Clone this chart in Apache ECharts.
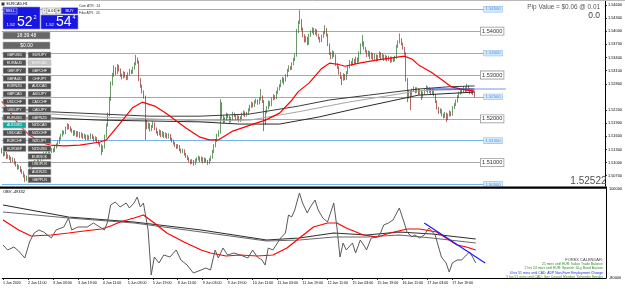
<!DOCTYPE html>
<html><head><meta charset="utf-8">
<script src="https://cdn.jsdelivr.net/npm/echarts@6/dist/echarts.min.js"></script>
<style>html,body{margin:0;padding:0;background:#fff}#c{width:625px;height:289px}</style>
</head><body><div id="c"></div>
<script>
// ---------- DATA ----------
const tickLabels = ['1 Jun 2020','2 Jun 11:00','3 Jun 03:00','3 Jun 19:00','4 Jun 11:00','5 Jun 03:00','5 Jun 19:00','8 Jun 11:00','9 Jun 03:00','9 Jun 19:00','10 Jun 11:00','11 Jun 03:00','11 Jun 19:00','12 Jun 11:00','15 Jun 03:00','15 Jun 19:00','16 Jun 11:00','17 Jun 03:00','17 Jun 19:00'];
const barsPerTick = 16;
// EURCAD H1 candles: [open, high, low, close]
const candles = [
[1.5130,1.5134,1.5121,1.5125],[1.5125,1.5128,1.5114,1.5118],[1.5118,1.5126,1.5115,1.5122],[1.5122,1.5124,1.5108,1.5112],[1.5112,1.5119,1.5109,1.5115],
[1.5115,1.5117,1.5106,1.5110],[1.5110,1.5113,1.5100,1.5104],[1.5104,1.5112,1.5101,1.5108],[1.5108,1.5110,1.5096,1.5100],[1.5100,1.5103,1.5091,1.5095],
[1.5095,1.5097,1.5084,1.5088],[1.5088,1.5094,1.5085,1.5090],[1.5090,1.5092,1.5078,1.5082],[1.5082,1.5085,1.5074,1.5078],[1.5078,1.5080,1.5066,1.5070],
[1.5070,1.5073,1.5056,1.5062],[1.5062,1.5070,1.5058,1.5066],[1.5066,1.5079,1.5063,1.5075],[1.5075,1.5089,1.5072,1.5085],[1.5085,1.5096,1.5082,1.5092],
[1.5092,1.5102,1.5089,1.5098],[1.5098,1.5106,1.5095,1.5102],[1.5102,1.5104,1.5092,1.5096],[1.5096,1.5109,1.5093,1.5105],[1.5105,1.5114,1.5102,1.5110],
[1.5110,1.5113,1.5104,1.5108],[1.5108,1.5119,1.5105,1.5115],[1.5115,1.5124,1.5112,1.5120],[1.5120,1.5123,1.5113,1.5117],[1.5117,1.5128,1.5114,1.5124],
[1.5124,1.5132,1.5121,1.5128],[1.5128,1.5131,1.5121,1.5125],[1.5125,1.5134,1.5122,1.5130],[1.5130,1.5133,1.5123,1.5127],[1.5127,1.5139,1.5124,1.5135],
[1.5135,1.5144,1.5132,1.5140],[1.5140,1.5150,1.5137,1.5146],[1.5146,1.5159,1.5143,1.5155],[1.5155,1.5166,1.5152,1.5162],[1.5162,1.5174,1.5159,1.5170],
[1.5170,1.5173,1.5164,1.5168],[1.5168,1.5182,1.5165,1.5178],[1.5178,1.5190,1.5175,1.5186],[1.5186,1.5188,1.5176,1.5180],[1.5180,1.5183,1.5171,1.5175],
[1.5175,1.5178,1.5168,1.5172],[1.5172,1.5174,1.5161,1.5165],[1.5165,1.5174,1.5162,1.5170],[1.5170,1.5172,1.5158,1.5162],[1.5162,1.5172,1.5159,1.5168],
[1.5168,1.5170,1.5156,1.5160],[1.5160,1.5169,1.5157,1.5165],[1.5165,1.5167,1.5154,1.5158],[1.5158,1.5166,1.5155,1.5162],[1.5162,1.5164,1.5151,1.5155],
[1.5155,1.5164,1.5152,1.5160],[1.5160,1.5162,1.5152,1.5156],[1.5156,1.5167,1.5153,1.5163],[1.5163,1.5165,1.5154,1.5158],[1.5158,1.5160,1.5148,1.5152],
[1.5152,1.5160,1.5149,1.5156],[1.5156,1.5158,1.5146,1.5150],[1.5150,1.5152,1.5141,1.5145],[1.5145,1.5147,1.5136,1.5140],[1.5140,1.5142,1.5117,1.5128],
[1.5128,1.5139,1.5124,1.5135],[1.5135,1.5164,1.5132,1.5160],[1.5160,1.5189,1.5157,1.5185],[1.5185,1.5214,1.5182,1.5210],[1.5210,1.5250,1.5206,1.5245],
[1.5245,1.5285,1.5241,1.5280],[1.5280,1.5305,1.5276,1.5300],[1.5300,1.5322,1.5296,1.5315],[1.5315,1.5318,1.5300,1.5305],[1.5305,1.5325,1.5302,1.5320],
[1.5320,1.5323,1.5308,1.5312],[1.5312,1.5315,1.5296,1.5300],[1.5300,1.5303,1.5290,1.5295],[1.5295,1.5309,1.5292,1.5305],[1.5305,1.5307,1.5294,1.5298],
[1.5298,1.5300,1.5288,1.5292],[1.5292,1.5306,1.5289,1.5302],[1.5302,1.5314,1.5299,1.5310],[1.5310,1.5312,1.5302,1.5306],[1.5306,1.5319,1.5303,1.5315],
[1.5315,1.5329,1.5312,1.5325],[1.5325,1.5346,1.5322,1.5338],[1.5338,1.5340,1.5326,1.5330],[1.5330,1.5333,1.5286,1.5290],[1.5290,1.5293,1.5271,1.5275],
[1.5275,1.5278,1.5258,1.5262],[1.5262,1.5265,1.5246,1.5250],[1.5250,1.5253,1.5152,1.5195],[1.5195,1.5198,1.5176,1.5180],[1.5180,1.5192,1.5177,1.5188],
[1.5188,1.5190,1.5171,1.5175],[1.5175,1.5186,1.5172,1.5182],[1.5182,1.5194,1.5179,1.5190],[1.5190,1.5192,1.5174,1.5178],[1.5178,1.5180,1.5166,1.5170],
[1.5170,1.5172,1.5161,1.5165],[1.5165,1.5176,1.5162,1.5172],[1.5172,1.5174,1.5158,1.5162],[1.5162,1.5172,1.5159,1.5168],[1.5168,1.5170,1.5156,1.5160],
[1.5160,1.5169,1.5157,1.5165],[1.5165,1.5167,1.5154,1.5158],[1.5158,1.5167,1.5155,1.5163],[1.5163,1.5165,1.5151,1.5155],[1.5155,1.5157,1.5146,1.5150],
[1.5150,1.5152,1.5141,1.5145],[1.5145,1.5147,1.5136,1.5140],[1.5140,1.5142,1.5131,1.5135],[1.5135,1.5142,1.5132,1.5138],[1.5138,1.5140,1.5126,1.5130],
[1.5130,1.5132,1.5121,1.5125],[1.5125,1.5132,1.5122,1.5128],[1.5128,1.5130,1.5116,1.5120],[1.5120,1.5122,1.5111,1.5115],[1.5115,1.5117,1.5106,1.5110],
[1.5110,1.5112,1.5101,1.5105],[1.5105,1.5107,1.5096,1.5100],[1.5100,1.5108,1.5097,1.5104],[1.5104,1.5106,1.5093,1.5098],[1.5098,1.5109,1.5095,1.5105],
[1.5105,1.5112,1.5102,1.5108],[1.5108,1.5116,1.5105,1.5112],[1.5112,1.5114,1.5101,1.5105],[1.5105,1.5114,1.5102,1.5110],[1.5110,1.5112,1.5098,1.5102],
[1.5102,1.5112,1.5099,1.5108],[1.5108,1.5110,1.5100,1.5104],[1.5104,1.5106,1.5095,1.5100],[1.5100,1.5110,1.5097,1.5106],[1.5106,1.5116,1.5103,1.5112],
[1.5112,1.5129,1.5109,1.5125],[1.5125,1.5142,1.5122,1.5138],[1.5138,1.5154,1.5135,1.5150],[1.5150,1.5166,1.5147,1.5162],[1.5162,1.5174,1.5159,1.5170],
[1.5170,1.5245,1.5166,1.5230],[1.5230,1.5238,1.5200,1.5205],[1.5205,1.5208,1.5190,1.5195],[1.5195,1.5204,1.5191,1.5200],[1.5200,1.5214,1.5197,1.5210],
[1.5210,1.5212,1.5201,1.5205],[1.5205,1.5207,1.5191,1.5195],[1.5195,1.5204,1.5192,1.5200],[1.5200,1.5216,1.5197,1.5212],[1.5212,1.5214,1.5204,1.5208],
[1.5208,1.5210,1.5196,1.5200],[1.5200,1.5209,1.5197,1.5205],[1.5205,1.5207,1.5192,1.5196],[1.5196,1.5206,1.5193,1.5202],[1.5202,1.5214,1.5199,1.5210],
[1.5210,1.5219,1.5207,1.5215],[1.5215,1.5217,1.5204,1.5208],[1.5208,1.5216,1.5205,1.5212],[1.5212,1.5224,1.5209,1.5220],[1.5220,1.5232,1.5217,1.5228],
[1.5228,1.5239,1.5225,1.5235],[1.5235,1.5237,1.5226,1.5230],[1.5230,1.5242,1.5227,1.5238],[1.5238,1.5246,1.5235,1.5242],[1.5242,1.5244,1.5232,1.5236],
[1.5236,1.5249,1.5233,1.5245],[1.5245,1.5268,1.5242,1.5250],[1.5250,1.5253,1.5236,1.5240],[1.5240,1.5243,1.5172,1.5190],[1.5190,1.5219,1.5186,1.5215],
[1.5215,1.5229,1.5212,1.5225],[1.5225,1.5242,1.5222,1.5238],[1.5238,1.5240,1.5228,1.5232],[1.5232,1.5249,1.5229,1.5245],[1.5245,1.5256,1.5242,1.5252],
[1.5252,1.5254,1.5244,1.5248],[1.5248,1.5264,1.5245,1.5260],[1.5260,1.5272,1.5257,1.5268],[1.5268,1.5279,1.5265,1.5275],[1.5275,1.5289,1.5272,1.5285],
[1.5285,1.5296,1.5282,1.5292],[1.5292,1.5294,1.5278,1.5288],[1.5288,1.5302,1.5285,1.5298],[1.5298,1.5314,1.5295,1.5310],[1.5310,1.5322,1.5307,1.5318],
[1.5318,1.5320,1.5311,1.5315],[1.5315,1.5329,1.5312,1.5325],[1.5325,1.5339,1.5322,1.5335],[1.5335,1.5349,1.5332,1.5345],[1.5345,1.5405,1.5342,1.5400],
[1.5400,1.5424,1.5396,1.5420],[1.5420,1.5448,1.5416,1.5425],[1.5425,1.5428,1.5401,1.5405],[1.5405,1.5408,1.5386,1.5390],[1.5390,1.5393,1.5374,1.5378],
[1.5378,1.5389,1.5375,1.5385],[1.5385,1.5387,1.5368,1.5372],[1.5372,1.5394,1.5369,1.5390],[1.5390,1.5402,1.5387,1.5398],[1.5398,1.5409,1.5395,1.5405],
[1.5405,1.5407,1.5391,1.5395],[1.5395,1.5406,1.5392,1.5402],[1.5402,1.5404,1.5388,1.5392],[1.5392,1.5394,1.5381,1.5385],[1.5385,1.5387,1.5374,1.5378],
[1.5378,1.5392,1.5375,1.5388],[1.5388,1.5400,1.5385,1.5396],[1.5396,1.5414,1.5393,1.5405],[1.5405,1.5407,1.5388,1.5392],[1.5392,1.5394,1.5366,1.5370],
[1.5370,1.5372,1.5346,1.5350],[1.5350,1.5352,1.5336,1.5340],[1.5340,1.5356,1.5337,1.5352],[1.5352,1.5354,1.5341,1.5345],[1.5345,1.5347,1.5321,1.5325],
[1.5325,1.5327,1.5314,1.5318],[1.5318,1.5320,1.5301,1.5305],[1.5305,1.5307,1.5291,1.5295],[1.5295,1.5297,1.5277,1.5290],[1.5290,1.5304,1.5287,1.5300],
[1.5300,1.5302,1.5288,1.5292],[1.5292,1.5309,1.5289,1.5305],[1.5305,1.5322,1.5302,1.5318],[1.5318,1.5334,1.5315,1.5330],[1.5330,1.5332,1.5321,1.5325],
[1.5325,1.5339,1.5322,1.5335],[1.5335,1.5337,1.5324,1.5328],[1.5328,1.5342,1.5325,1.5338],[1.5338,1.5340,1.5328,1.5332],[1.5332,1.5354,1.5329,1.5350],
[1.5350,1.5372,1.5347,1.5368],[1.5368,1.5391,1.5365,1.5375],[1.5375,1.5377,1.5358,1.5362],[1.5362,1.5364,1.5351,1.5355],[1.5355,1.5357,1.5341,1.5345],
[1.5345,1.5356,1.5342,1.5352],[1.5352,1.5354,1.5336,1.5340],[1.5340,1.5352,1.5337,1.5348],[1.5348,1.5350,1.5334,1.5338],[1.5338,1.5349,1.5335,1.5345],
[1.5345,1.5347,1.5331,1.5335],[1.5335,1.5346,1.5332,1.5342],[1.5342,1.5354,1.5339,1.5350],[1.5350,1.5352,1.5336,1.5340],[1.5340,1.5349,1.5337,1.5345],
[1.5345,1.5347,1.5332,1.5336],[1.5336,1.5346,1.5333,1.5342],[1.5342,1.5344,1.5331,1.5335],[1.5335,1.5344,1.5332,1.5340],[1.5340,1.5342,1.5328,1.5332],
[1.5332,1.5342,1.5329,1.5338],[1.5338,1.5340,1.5330,1.5334],[1.5334,1.5344,1.5331,1.5340],[1.5340,1.5369,1.5337,1.5365],[1.5365,1.5379,1.5362,1.5375],
[1.5375,1.5395,1.5372,1.5382],[1.5382,1.5384,1.5368,1.5372],[1.5372,1.5374,1.5358,1.5362],[1.5362,1.5364,1.5346,1.5350],[1.5350,1.5352,1.5285,1.5290],
[1.5290,1.5293,1.5238,1.5250],[1.5250,1.5266,1.5246,1.5262],[1.5262,1.5264,1.5220,1.5255],[1.5255,1.5269,1.5252,1.5265],[1.5265,1.5274,1.5262,1.5270],
[1.5270,1.5272,1.5258,1.5262],[1.5262,1.5272,1.5259,1.5268],[1.5268,1.5270,1.5254,1.5258],[1.5258,1.5268,1.5255,1.5264],[1.5264,1.5266,1.5243,1.5250],
[1.5250,1.5262,1.5247,1.5258],[1.5258,1.5269,1.5255,1.5265],[1.5265,1.5276,1.5262,1.5272],[1.5272,1.5274,1.5258,1.5262],[1.5262,1.5272,1.5259,1.5268],
[1.5268,1.5270,1.5254,1.5258],[1.5258,1.5268,1.5255,1.5264],[1.5264,1.5266,1.5251,1.5255],[1.5255,1.5257,1.5236,1.5240],[1.5240,1.5242,1.5221,1.5225],
[1.5225,1.5227,1.5211,1.5215],[1.5215,1.5224,1.5212,1.5220],[1.5220,1.5222,1.5206,1.5210],[1.5210,1.5212,1.5201,1.5205],[1.5205,1.5216,1.5202,1.5212],
[1.5212,1.5214,1.5193,1.5200],[1.5200,1.5212,1.5197,1.5208],[1.5208,1.5219,1.5205,1.5215],[1.5215,1.5217,1.5206,1.5210],[1.5210,1.5229,1.5207,1.5225],
[1.5225,1.5236,1.5222,1.5232],[1.5232,1.5244,1.5229,1.5240],[1.5240,1.5254,1.5237,1.5250],[1.5250,1.5262,1.5247,1.5258],[1.5258,1.5269,1.5255,1.5265],
[1.5265,1.5267,1.5258,1.5262],[1.5262,1.5274,1.5259,1.5270],[1.5270,1.5272,1.5261,1.5265],[1.5265,1.5280,1.5262,1.5275],[1.5275,1.5277,1.5264,1.5268],
[1.5268,1.5270,1.5256,1.5260],[1.5260,1.5269,1.5257,1.5265],[1.5265,1.5267,1.5254,1.5258],[1.5258,1.5261,1.5249,1.5252]
];
// moving averages on price, read at sample bars: [barIndex, price]
const priceEmaRed = [[0,1.5240],[6,1.5212],[11,1.5186],[17,1.5165],[24,1.5148],[31,1.5140],[40,1.5138],[50,1.5140],[63,1.5147],[67,1.5152],[75,1.5186],[84,1.5226],[90,1.5238],[98,1.5229],[105,1.5213],[118,1.5179],[127,1.5158],[133,1.5152],[139,1.5152],[148,1.5172],[163,1.5190],[169,1.5197],[178,1.5213],[186,1.5243],[190,1.5262],[197,1.5282],[205,1.5315],[210,1.5327],[216,1.5324],[220,1.5320],[229,1.5327],[240,1.5334],[250,1.5339],[258,1.5343],[263,1.5336],[267,1.5323],[275,1.5307],[282,1.5289],[288,1.5273],[297,1.5266],[303,1.5263]];
const priceMaGray1 = [[0,1.5225],[31,1.5216],[63,1.5211],[95,1.5206],[127,1.5206],[159,1.5211],[190,1.5229],[210,1.5243],[235,1.5254],[267,1.5268],[286,1.5273],[303,1.5275]];
const priceMaGray2 = [[0,1.5216],[31,1.5211],[63,1.5204],[95,1.5200],[127,1.5195],[159,1.5197],[190,1.5216],[222,1.5238],[267,1.5264],[303,1.5268]];
const priceMaGray3 = [[0,1.5202],[31,1.5202],[63,1.5197],[95,1.5195],[127,1.5193],[152,1.5188],[178,1.5188],[203,1.5204],[229,1.5225],[267,1.5254],[303,1.5261]];
const priceTrend = [[273,1.5268],[303,1.5268]];
const priceTrendExt = [[303,1.5268],[323,1.5268]];
const grayLevels = [1.510,1.520,1.530,1.540];
const blueLevels = [1.505,1.515,1.525,1.535,1.545];
const grayLevelEnd = 306.7, blueLevelEnd = 308.6;
const lastPrice = 1.52522;
const priceTicks = [1.546,1.543,1.540,1.537,1.534,1.531,1.528,1.522,1.519,1.516,1.513,1.510,1.507];
// OBV indicator, read at sample bars: [barIndex, value]
const obv = [[0,-13260],[3,-23370],[7,-17300],[10,-25390],[14,-39550],[17,-7190],[20,11010],[23,17080],[26,13035],[31,900],[34,17080],[39,23150],[42,41350],[44,17080],[48,23150],[54,23150],[58,31240],[63,21125],[65,17080],[67,33260],[69,67640],[72,73710],[75,63600],[79,71690],[81,61575],[84,71690],[86,83820],[88,63600],[90,71690],[93,17080],[95,-73930],[97,-37530],[100,-49660],[103,-33480],[107,-37530],[111,-23370],[114,-43600],[118,-53710],[122,-69890],[127,-63820],[130,-59780],[133,-63820],[136,-23370],[138,-39550],[141,-19330],[144,-33480],[148,-29440],[152,-33480],[157,-39550],[160,-23370],[163,-37530],[166,-43600],[168,-53710],[170,-19330],[173,-23370],[178,900],[181,11010],[183,47420],[185,43370],[187,57530],[190,91910],[192,71690],[195,51460],[197,63600],[200,77750],[202,57530],[205,41350],[208,33260],[212,71690],[214,23150],[216,-37530],[218,-9210],[220,-23370],[224,-9210],[226,-29440],[229,-3150],[232,-17300],[233,-23370],[236,900],[240,2920],[242,11010],[244,27190],[247,31240],[250,37300],[254,61580],[257,33260],[259,13040],[262,2920],[264,6970],[267,900],[270,6970],[273,21130],[277,6970],[281,-37530],[284,-49660],[286,-67870],[288,-49660],[291,-43600],[294,-43600],[297,-33480],[299,-27420],[301,-37530],[303,-49332]];
const obvEmaRed = [[0,37300],[10,17080],[18,4945],[31,6970],[42,11010],[52,15060],[63,19100],[69,25170],[75,33260],[84,41350],[90,47420],[97,31240],[105,11010],[116,-7190],[127,-23370],[133,-29440],[143,-35500],[152,-33480],[163,-35500],[173,-33480],[182,-19330],[190,900],[199,23150],[208,31240],[214,31240],[220,21130],[231,6970],[240,2920],[248,11010],[259,19100],[267,19100],[278,13040],[284,900],[291,-13260],[297,-17300],[303,-23370]];
const obvMaA = [[0,67640],[42,43370],[84,33260],[127,17080],[169,-3150],[190,900],[212,11010],[233,6970],[254,13040],[275,8990],[303,-1120]];
const obvMaB = [[0,53490],[42,41350],[84,31240],[127,13040],[169,-5170],[190,-3150],[212,2920],[233,2920],[254,6970],[275,900],[303,-9210]];
const obvTrend = [[270,31240],[309,-49660]];
const obvMin = -80000, obvMax = 100000;
const obvCurrent = -49332;
const calendarLines = [
  ['21 mins until EUR: Italian Trade Balance','#2e8b2e'],
  ['2 hrs 24 mins until EUR: Spanish 10-y Bond Auction','#2e8b2e'],
  ['4 hrs 51 mins until CAD: ADP Non-Farm Employment Change','#1f1fe8'],
  ['5 hrs 51 mins until CAD: Gov Council Member Schembri Speaks','#2e8b2e']
];
const symbolsCol1 = ['GBPUSD','EURAUD','GBPJPY','GBPAUD','EURNZD','GBPCAD','USDCHF','USDJPY','EURUSD','AUDUSD','USDCAD','EURCHF','EURGBP'];
const symbolsCol2 = ['EURJPY','EURCAD','GBPCHF','CHFJPY','AUDCAD','AUDJPY','CADCHF','CADJPY','GBPNZD','NZDCAD','NZDCHF','NZDJPY','NZDUSD','EURNOK','USDPLN','AUDNZD','GBPPLN'];

// ---------- CHART ----------
const FF = 'Liberation Sans, Arial, sans-serif';
const NCAT = 387;
const cats = Array.from({length: NCAT}, (_, i) => String(i));
const isTick = i => i % barsPerTick === 0 && i / barsPerTick < tickLabels.length;

function levelLine(p, end, blue) {
  return [
    { coord: [0, p],
      lineStyle: { color: blue ? '#78b4ea' : '#a8a8a8', width: 1, type: 'solid' },
      label: blue ? { show: true, position: 'end', distance: 0, formatter: p.toFixed(5), fontSize: 4.2, fontFamily: FF,
                       color: '#4f94dc', backgroundColor: '#d6e8fa', borderColor: '#8fc0ee', borderWidth: 0.6, padding: [0.6, 1.5] }
                  : { show: true, position: 'end', distance: 0, formatter: p.toFixed(5), fontSize: 5.6, fontFamily: FF,
                       color: '#333', backgroundColor: '#fff', borderColor: '#9a9a9a', borderWidth: 0.8, padding: [0.6, 1.2] } },
    { coord: [end, p] }
  ];
}

const G = [];
function rect(x, y, w, h, fill, stroke, lw) {
  G.push({ type: 'rect', z: 100, shape: { x, y, width: w, height: h }, style: { fill, stroke: stroke || null, lineWidth: lw || 0 } });
}
function txt(x, y, text, size, fill, align, vAlign, weight) {
  G.push({ type: 'text', z: 101, x, y, style: { text, fill, fontSize: size, fontFamily: FF, fontWeight: weight || 'normal',
    align: align || 'left', textAlign: align || 'left', verticalAlign: vAlign || 'middle', textVerticalAlign: vAlign || 'middle' } });
}
// frame pieces
G.push({ type: 'line', z: 90, shape: { x1: 0, y1: 0.5, x2: 625, y2: 0.5 }, style: { stroke: '#b8b8b8', lineWidth: 1 } });
rect(0, 186.5, 607, 2.2, '#000');
// title + info
rect(1.5, 2.5, 3, 3, '#333');
txt(6.5, 4.2, 'EURCAD,H1', 3.7, '#000');
txt(79, 6.5, 'Cam ATR : 24', 3.4, '#333');
txt(79, 13, 'Fibo ATR : 24', 3.4, '#333');
txt(600, 7.5, 'Pip Value = $0.06 @ 0.01', 6.4, '#555', 'right');
txt(600, 15.8, '0.0', 8.5, '#444', 'right');
txt(606.5, 181.5, '1.52522', 10, '#505050', 'right');
txt(3, 191.8, 'OBV ' + obvCurrent, 4, '#000');
txt(603, 259.5, 'FOREX CALENDAR:', 4, '#444', 'right');
calendarLines.forEach((l, k) => txt(603, 264 + k * 4.5, l[0], 3.4, l[1], 'right'));
// trade panel
rect(3, 7, 37, 22, '#1717e0', '#8c8cff', 0.6);
rect(41, 15, 37, 14, '#1717e0', '#8c8cff', 0.6);
rect(4, 8, 13, 6, '#2b2bd6', '#c8c8ff', 0.5); txt(10.5, 11.2, 'SELL', 4, '#fff', 'center');
rect(61, 7.5, 17, 6.5, '#1717e0', '#c8c8ff', 0.5); txt(69.5, 11, 'BUY', 4, '#fff', 'center');
rect(42, 8, 5, 6, '#e6e6e6', '#888', 0.5); txt(44.5, 10.8, '-', 4.5, '#000', 'center');
rect(47, 8, 9, 6, '#fff', '#888', 0.5); txt(55.5, 11.2, '0.01', 3.8, '#000', 'right');
rect(56, 8, 5, 6, '#e6e6e6', '#888', 0.5); txt(58.5, 11, '+', 4.5, '#000', 'center');
txt(6.5, 24.5, '1.52', 4.4, '#fff');
txt(17, 22, '52', 14, '#fff');
txt(33.5, 17.8, '2', 5.5, '#fff');
txt(45.5, 24.5, '1.52', 4.4, '#fff');
txt(56, 22, '54', 14, '#fff');
txt(72.5, 17.8, '4', 5.5, '#fff');
rect(3, 32, 47, 7, '#676767', '#b0b0b0', 0.6); txt(26.5, 35.6, '18:39:48', 5, '#fff', 'center');
rect(3, 42, 47, 7, '#676767', '#b0b0b0', 0.6); txt(26.5, 45.6, '$0.00', 5, '#fff', 'center');
function symBtn(x, k, name) {
  const y = 52 + k * 7.8;
  let fill = '#505050', tc = '#fff';
  if (name === 'EURCAD') { fill = '#c4c4c4'; tc = '#f4f4f4'; }
  if (name === 'AUDUSD') { fill = '#15a89e'; }
  rect(x, y, 23, 6, fill, '#c6c6c6', 0.6);
  txt(x + 11.5, y + 3.2, name, 3.6, tc, 'center');
}
symbolsCol1.forEach((s, k) => symBtn(3, k, s));
symbolsCol2.forEach((s, k) => symBtn(28, k, s));

const lineS = (data, color, width, xi, yi, z) => ({ type: 'line', xAxisIndex: xi, yAxisIndex: yi, data, symbol: 'none',
  lineStyle: { color, width }, itemStyle: { color }, z: z || 3, silent: true, animation: false });

const option = {
  animation: false,
  backgroundColor: '#fff',
  grid: [ { left: 1, top: 1, width: 606, height: 185 }, { left: 1, top: 189, width: 606, height: 89 } ],
  xAxis: [
    { type: 'category', gridIndex: 0, data: cats, boundaryGap: true, axisLine: { show: false }, axisTick: { show: false }, axisLabel: { show: false }, splitLine: { show: false } },
    { type: 'category', gridIndex: 1, data: cats, boundaryGap: true,
      axisLine: { show: true, onZero: false, lineStyle: { color: '#000', width: 1 } },
      axisTick: { show: true, interval: (i) => isTick(i), alignWithLabel: true, length: 2, lineStyle: { color: '#000', width: 0.8 } },
      axisLabel: { show: true, interval: (i) => isTick(i), formatter: (v, i) => tickLabels[i / barsPerTick] || '', align: 'left',
                   fontSize: 3.6, fontFamily: FF, color: '#000', margin: 3 },
      splitLine: { show: false } }
  ],
  yAxis: [
    { type: 'value', gridIndex: 0, position: 'right', min: 1.504658, max: 1.546895, scale: true,
      axisLine: { show: true, onZero: false, lineStyle: { color: '#000', width: 1 } },
      axisTick: { show: true, length: 2, customValues: priceTicks, lineStyle: { color: '#000', width: 0.8 } },
      axisLabel: { show: true, customValues: priceTicks, formatter: v => v.toFixed(5), fontSize: 3.9, fontFamily: FF, color: '#000', margin: 3 },
      splitLine: { show: false } },
    { type: 'value', gridIndex: 1, position: 'right', min: obvMin, max: obvMax,
      axisLine: { show: true, onZero: false, lineStyle: { color: '#000', width: 1 } },
      axisTick: { show: false },
      axisLabel: { show: true, customValues: [obvMax, obvMin], formatter: v => String(Math.round(v)), fontSize: 3.9, fontFamily: FF, color: '#000', margin: 3 },
      splitLine: { show: false } }
  ],
  series: [
    { type: 'candlestick', xAxisIndex: 0, yAxisIndex: 0, z: 4, silent: true,
      data: candles.map(([o, h, l, c]) => [o, c, l, h]),
      barWidth: 1.1,
      itemStyle: { color: '#2f8f2f', color0: '#b83228', borderColor: '#2a6e2a', borderColor0: '#8c2a22', borderWidth: 0.7 },
      markLine: { silent: true, symbol: ['none', 'none'], animation: false, z: 2,
        data: [
          ...grayLevels.map(p => levelLine(p, grayLevelEnd, false)),
          ...blueLevels.map(p => levelLine(p, blueLevelEnd, true)),
          { yAxis: lastPrice, lineStyle: { opacity: 0 },
            label: { show: true, position: 'end', distance: 0.5, formatter: lastPrice.toFixed(5), fontSize: 3.9, fontFamily: FF,
                     color: '#fff', backgroundColor: '#000', padding: [0.8, 1.2] } }
        ] } },
    lineS(priceMaGray2, '#a6a6a6', 1, 0, 0, 5),
    lineS(priceMaGray1, '#3c3c3c', 1, 0, 0, 5),
    lineS(priceMaGray3, '#2a2a2a', 1, 0, 0, 5),
    lineS(priceEmaRed, '#ff0000', 1.2, 0, 0, 6),
    lineS(priceTrend, '#2030d8', 1.2, 0, 0, 7),
    lineS(priceTrendExt, '#8090f0', 1.2, 0, 0, 7),
    lineS(obvMaB, '#6a6a6a', 1.1, 1, 1, 3),
    lineS(obvMaA, '#303030', 1.2, 1, 1, 3),
    lineS(obvEmaRed, '#ff0000', 1.2, 1, 1, 4),
    lineS(obv, '#5a5a5a', 1, 1, 1, 5),
    lineS(obvTrend, '#1a1aff', 1.2, 1, 1, 6)
  ],
  graphic: { elements: G }
};
const chart = echarts.init(document.getElementById('c'), null, { renderer: 'canvas' });
chart.setOption(option);
</script></body></html>
